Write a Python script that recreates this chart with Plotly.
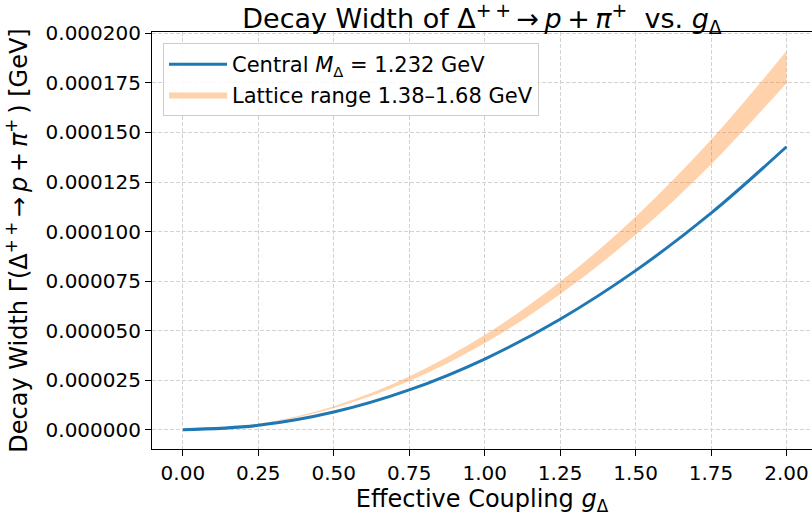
import plotly.graph_objects as go

g_values = [0.0, 0.25, 0.5, 0.75, 1.0, 1.25, 1.5, 1.75, 2.0]
central_width = [0.0, 0.00000223, 0.00000893, 0.0000201, 0.0000357, 0.0000558, 0.0000803, 0.0001093, 0.0001428]
lattice_upper = [0.0, 0.00000299, 0.0000119, 0.0000269, 0.0000478, 0.0000747, 0.0001075, 0.0001463, 0.0001911]
lattice_lower = [0.0, 0.00000273, 0.0000109, 0.0000246, 0.0000437, 0.0000684, 0.0000984, 0.0001339, 0.0001749]
x_ticks = [0.0, 0.25, 0.5, 0.75, 1.0, 1.25, 1.5, 1.75, 2.0]
x_tick_labels = ["0.00", "0.25", "0.50", "0.75", "1.00", "1.25", "1.50", "1.75", "2.00"]

FONT = "DejaVu Sans"
GRID = "#d3d3d3"
TS = "\u2009"  # thin space

fig = go.Figure()
fig.add_trace(go.Scatter(
    x=g_values, y=lattice_lower, mode="lines", line=dict(width=0, shape="spline"),
    showlegend=False, hoverinfo="skip", legendrank=2))
fig.add_trace(go.Scatter(
    x=g_values, y=lattice_upper, mode="lines", line=dict(width=0, shape="spline"),
    fill="tonexty", fillcolor="rgba(255,127,14,0.35)", legendrank=2,
    name="Lattice range 1.38–1.68 GeV", hoverinfo="skip"))
fig.add_trace(go.Scatter(
    x=g_values, y=central_width, mode="lines", legendrank=1,
    line=dict(color="#1f77b4", width=3, shape="spline"),
    name="Central <i>M</i><sub>Δ</sub> = 1.232 GeV"))

title_text = ("Decay Width of Δ<sup>+" + TS + "+</sup>" + TS + "→" + TS + "<i>p</i>" + TS + "+" + TS
              + "<i>π</i><sup>+</sup>  vs. <i>g</i><sub>Δ</sub>")
ylabel_text = ("Decay Width Γ(Δ<sup>+" + TS + "+</sup>" + TS + "→" + TS + "<i>p</i>" + TS + "+" + TS
               + "<i>π</i><sup>+</sup>" + TS + ") [GeV]")

fig.update_layout(
    width=812, height=519,
    margin=dict(l=152, r=0, t=32, b=70),
    paper_bgcolor="white", plot_bgcolor="white",
    font=dict(family=FONT, size=20, color="black"),
    title=dict(
        text=title_text,
        x=0.5, xref="paper", xanchor="center",
        y=1 - 19 / 519, yref="container", yanchor="middle",
        font=dict(family=FONT, size=27)),
    showlegend=True,
    legend=dict(
        x=0.0167, y=0.9736, xanchor="left", yanchor="top",
        bgcolor="rgba(255,255,255,0.85)", bordercolor="#cccccc", borderwidth=1,
        font=dict(family=FONT, size=21), traceorder="normal", itemwidth=58),
    xaxis=dict(
        range=[-0.1023, 2.0845], tickvals=x_ticks, ticktext=x_tick_labels,
        ticks="outside", ticklen=6, tickwidth=1, tickcolor="black", tickfont=dict(size=20),
        showline=True, linecolor="black", linewidth=1, mirror=True,
        showgrid=True, gridcolor=GRID, griddash="4px,2px", gridwidth=1,
        zeroline=False, automargin=False,
        title=dict(text="Effective Coupling <i>g</i><sub>Δ</sub>", font=dict(size=24), standoff=6)),
    yaxis=dict(
        range=[-0.0000097, 0.0002007], dtick=0.000025, tick0=0, tickformat=".6f",
        ticks="outside", ticklen=6, tickwidth=1, tickcolor="black", tickfont=dict(size=20),
        showline=True, linecolor="black", linewidth=1, mirror=False,
        showgrid=True, gridcolor=GRID, griddash="4px,2px", gridwidth=1,
        zeroline=False, automargin=False,
        title=dict(text=ylabel_text, font=dict(size=24), standoff=11)),
)

fig.write_html(
    "out.html",
    config={"displayModeBar": False},
    post_script="document.body.style.margin='0';document.body.style.overflow='hidden';",
)
